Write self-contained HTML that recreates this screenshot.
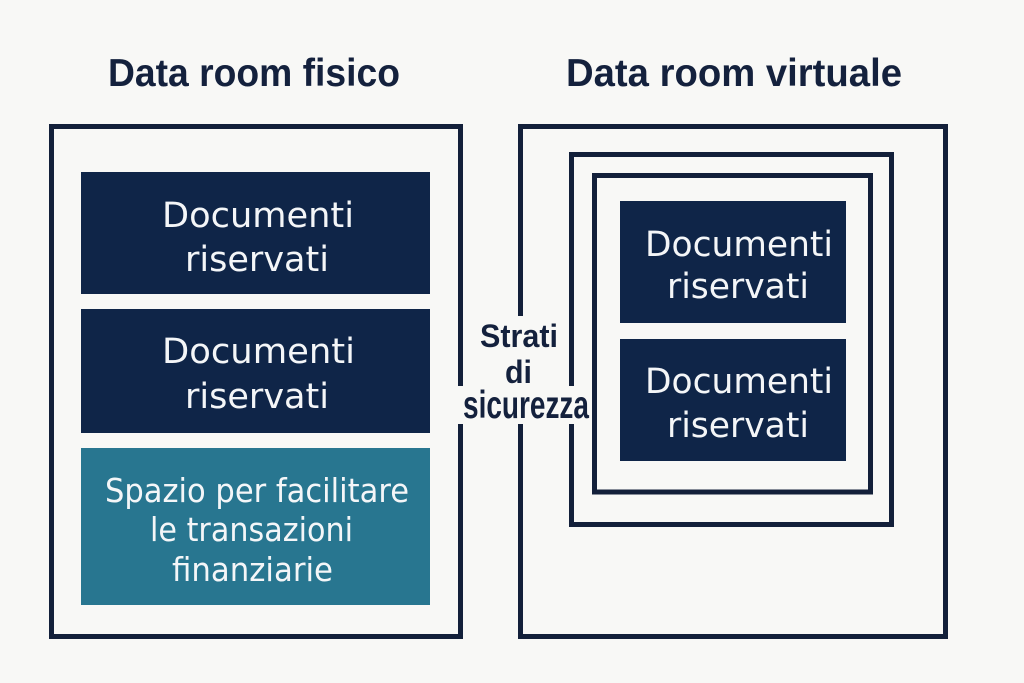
<!DOCTYPE html>
<html>
<head>
<meta charset="utf-8">
<style>
  html, body { margin: 0; padding: 0; background: #f8f8f6; }
  svg { display: block; }
</style>
</head>
<body>
<svg width="1024" height="683" viewBox="0 0 1024 683" xmlns="http://www.w3.org/2000/svg">
  <rect x="0" y="0" width="1024" height="683" fill="#f8f8f6"/>

  <!-- Titles -->
  <g font-family="'Liberation Sans', sans-serif" font-weight="bold" font-size="39" fill="#14213d">
    <text x="108" y="86" textLength="292" lengthAdjust="spacingAndGlyphs">Data room fisico</text>
    <text x="566" y="86" textLength="336" lengthAdjust="spacingAndGlyphs">Data room virtuale</text>
  </g>

  <!-- Left outer box -->
  <rect x="51.5" y="126.5" width="409" height="510" fill="none" stroke="#13203a" stroke-width="5"/>

  <!-- Left inner boxes -->
  <rect x="81" y="172" width="349" height="122" fill="#0f2548"/>
  <rect x="81" y="309" width="349" height="124" fill="#0f2548"/>
  <rect x="81" y="448" width="349" height="157" fill="#287690"/>

  <!-- Right nested boxes -->
  <rect x="520.5" y="126.5" width="425" height="510" fill="none" stroke="#13203a" stroke-width="5"/>
  <rect x="571.5" y="154.5" width="320" height="370" fill="none" stroke="#13203a" stroke-width="5"/>
  <rect x="594.5" y="175.5" width="276" height="316.5" fill="none" stroke="#13203a" stroke-width="5"/>

  <rect x="620" y="201" width="226" height="122" fill="#0f2548"/>
  <rect x="620" y="339" width="226" height="122" fill="#0f2548"/>

  <!-- Box texts -->
  <g font-family="'DejaVu Sans', sans-serif" font-size="35" fill="#f4f6f8">
    <text x="162" y="227" textLength="192" lengthAdjust="spacingAndGlyphs">Documenti</text>
    <text x="185" y="271" textLength="144" lengthAdjust="spacingAndGlyphs">riservati</text>

    <text x="162" y="363" textLength="193" lengthAdjust="spacingAndGlyphs">Documenti</text>
    <text x="185" y="408" textLength="144" lengthAdjust="spacingAndGlyphs">riservati</text>

    <text x="645" y="256" textLength="188" lengthAdjust="spacingAndGlyphs">Documenti</text>
    <text x="667" y="298" textLength="142" lengthAdjust="spacingAndGlyphs">riservati</text>

    <text x="645" y="393" textLength="188" lengthAdjust="spacingAndGlyphs">Documenti</text>
    <text x="667" y="437" textLength="142" lengthAdjust="spacingAndGlyphs">riservati</text>
  </g>
  <g font-family="'DejaVu Sans', sans-serif" font-size="33" fill="#f4f6f8">
    <text x="105" y="502" textLength="304" lengthAdjust="spacingAndGlyphs">Spazio per facilitare</text>
    <text x="150" y="541" textLength="203" lengthAdjust="spacingAndGlyphs">le transazioni</text>
    <text x="172" y="581" textLength="161" lengthAdjust="spacingAndGlyphs">finanziarie</text>
  </g>

  <!-- Strati di sicurezza label with background masks -->
  <rect x="476" y="316" width="86" height="37" fill="#f8f8f6"/>
  <rect x="500" y="352" width="36" height="35" fill="#f8f8f6"/>
  <rect x="456" y="386" width="135" height="38" fill="#f8f8f6"/>
  <g font-family="'Liberation Sans', sans-serif" font-weight="bold" fill="#14213d">
    <text x="480" y="347" font-size="32" textLength="78" lengthAdjust="spacingAndGlyphs">Strati</text>
    <text x="505" y="383" font-size="32" textLength="27" lengthAdjust="spacingAndGlyphs">di</text>
    <text x="463" y="418" font-size="39" textLength="126" lengthAdjust="spacingAndGlyphs">sicurezza</text>
  </g>
</svg>
</body>
</html>
